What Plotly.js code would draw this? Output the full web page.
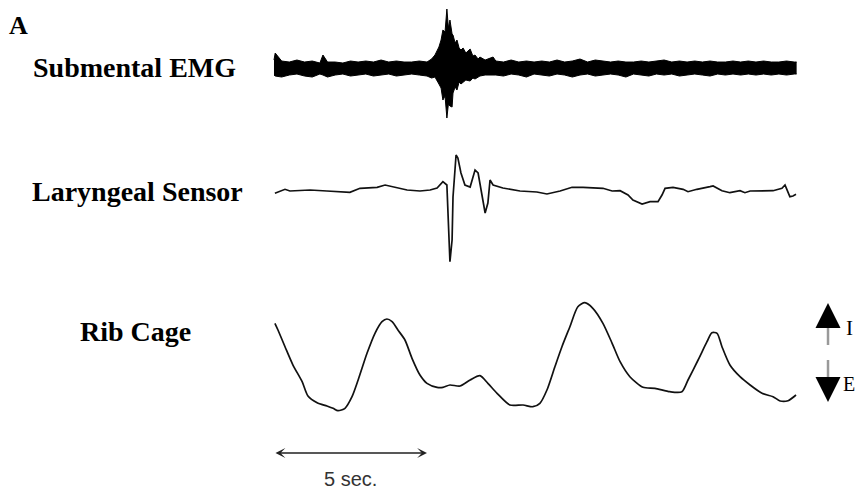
<!DOCTYPE html>
<html><head><meta charset="utf-8">
<script src="https://cdn.plot.ly/plotly-3.0.1.min.js"></script>
<style>html,body{margin:0;padding:0;background:#fff}#chart{width:856px;height:492px}</style>
</head><body><div id="chart"></div>
<script>
// Time in seconds (scale bar: 5 s)
const emgT = [0,0.04,0.25,0.5,0.75,1.0,1.25,1.5,1.6,1.75,2.0,2.25,2.5,2.75,3.0,3.25,3.5,3.75,4.0,4.25,4.5,4.75,5.0,5.15,
  5.26,5.39,5.46,5.52,5.59,5.65,5.70,5.75,5.82,5.85,5.92,5.98,6.05,6.11,6.18,6.27,6.41,6.50,6.57,6.67,6.73,6.90,7.16,
  7.25,7.5,7.75,8.0,8.25,8.5,8.75,9.0,9.25,9.5,9.75,10.0,10.25,10.5,10.75,11.0,11.25,11.5,11.75,12.0,12.25,12.5,12.75,13.0,13.25,13.5,13.75,14.0,14.25,14.5,14.75,15.0,15.25,15.5,15.75,16.0,16.25,16.5,16.75,17.0,17.08];
const emgTop = [8,15,7,6,8,6,7,5,13,6,6,5,7,6,7,6,8,6,7,6,6,7,6,9,
  13,21,28,38,36,59,40,48,34,33,25,28,20,18,20,15,19,12,13,9,11,8,11,
  7,6,8,6,7,6,7,6,8,6,7,9,6,8,7,6,7,6,6,7,6,7,8,6,7,6,7,6,7,6,6,7,6,7,6,7,6,6,7,6,6];
const emgBottom = [-7,-8,-9,-7,-6,-8,-9,-6,-7,-9,-7,-6,-8,-7,-6,-8,-7,-6,-8,-7,-6,-7,-8,-10,
  -9,-16,-20,-32,-28,-50,-36,-38,-39,-25,-19,-22,-14,-16,-14,-12,-13,-10,-11,-9,-8,-7,-7,
  -7,-8,-6,-7,-9,-6,-7,-8,-6,-7,-9,-7,-6,-8,-7,-6,-7,-9,-6,-7,-8,-6,-7,-6,-8,-7,-6,-7,-8,-6,-7,-6,-7,-6,-7,-6,-7,-6,-7,-6,-6];

const larT = [0.03,0.36,0.52,1.18,1.73,2.48,2.81,3.37,3.63,4.02,4.35,4.77,5.10,5.33,5.52,5.65,5.69,5.72,5.75,5.82,5.85,5.95,6.01,6.11,6.24,6.41,6.57,6.67,6.80,6.90,6.99,7.06,7.16,7.48,8.04,8.59,8.92,9.35,9.74,10.10,10.75,11.05,11.31,11.57,11.73,12.03,12.29,12.55,12.68,12.78,13.04,13.37,13.53,13.82,14.25,14.35,14.64,14.90,15.23,15.39,15.56,16.31,16.60,16.70,16.76,16.86,16.96,17.06];
const larV = [-2.3,1.7,0,1,0,-1.3,2.7,3.7,6,3.7,1,0,1,3,9.3,6,-22,-39,-70.7,-49,-6,36,33,18,6,4,21,18,-6,-22,-12,11,6,3,0,-1,-3,0,3.7,3.7,2.7,0,0.3,-4,-9,-13,-10.7,-10.7,-4,2.7,3.7,1.7,-0.7,1.7,4.3,5,0.3,-1.7,0.3,-1.7,0,0.3,2.7,6,1.7,-5.7,-5,-3.3];

const ribT = [0.03,0.13,0.36,0.62,0.92,1.11,1.41,1.73,1.93,2.09,2.32,2.55,2.75,3.04,3.30,3.53,3.69,3.86,4.05,4.28,4.51,4.77,5.00,5.33,5.52,5.75,6.08,6.41,6.73,6.99,7.29,7.71,8.14,8.46,8.69,8.92,9.18,9.41,9.67,9.93,10.16,10.42,10.75,11.05,11.31,11.63,12.06,12.45,12.94,13.33,13.53,13.86,14.15,14.31,14.48,14.64,14.90,15.23,15.56,15.95,16.31,16.54,16.80,17.06];
const ribV = [96.7,90,73.3,55,38.3,24,17.3,14,11.7,9.3,11.7,23.3,40,66.7,86.7,98.3,101,98.3,90,80,61.7,45,36.7,32.7,32.7,35,34,40,44.3,36.7,26.7,15,15,13.3,16.7,30,53.3,73.3,93.3,113.3,117.3,111.7,96.7,76.7,58.3,43.3,32.7,31.7,28.3,28.3,40,60,78.3,87.3,86.7,73.3,55,43.3,35,26.7,23.3,19,19.3,25];

const traceLabels = ['Submental EMG','Laryngeal Sensor','Rib Cage'];
const scaleSeconds = 5;

const serif = 'Liberation Serif, Times New Roman, serif';
const data = [
  {x: emgT, y: emgBottom, yaxis:'y', mode:'lines', line:{color:'#000', width:1}, hoverinfo:'skip'},
  {x: emgT, y: emgTop, yaxis:'y', mode:'lines', fill:'tonexty', fillcolor:'#000', line:{color:'#000', width:1}, hoverinfo:'skip'},
  {x: larT, y: larV, yaxis:'y2', mode:'lines', line:{color:'#111', width:1.7}, hoverinfo:'skip'},
  {x: ribT, y: ribV, yaxis:'y3', mode:'lines', line:{color:'#111', width:1.7, shape:'spline', smoothing:0.7}, hoverinfo:'skip'}
];

const hidden = {visible:false, showgrid:false, zeroline:false, fixedrange:true};
const layout = {
  width:856, height:492,
  margin:{l:0,r:0,t:0,b:0,pad:0},
  paper_bgcolor:'#fff', plot_bgcolor:'#fff',
  showlegend:false,
  xaxis: Object.assign({domain:[0,1], range:[-8.954, 19.02]}, hidden),
  yaxis: Object.assign({domain:[0.7459,0.9898], range:[-57,63]}, hidden),
  yaxis2: Object.assign({domain:[0.4411,0.7154], range:[-84,51], anchor:'x'}, hidden),
  yaxis3: Object.assign({domain:[0.1463,0.4106], range:[0,130], anchor:'x'}, hidden),
  shapes: [
    {type:'line', xref:'paper', yref:'paper', x0:0.9673, x1:0.9673, y0:0.3455, y1:0.2988, line:{color:'#999', width:2.5}},
    {type:'line', xref:'paper', yref:'paper', x0:0.9673, x1:0.9673, y0:0.2683, y1:0.2276, line:{color:'#999', width:2.5}}
  ],
  annotations: [
    {text:'A', xref:'paper', yref:'paper', x:0.008, y:0.949, xanchor:'left', yanchor:'middle', showarrow:false, font:{family:serif, size:26, color:'#000', weight:'bold'}},
    {text:traceLabels[0], xref:'paper', yref:'paper', x:0.036, y:0.8638, xanchor:'left', yanchor:'middle', showarrow:false, font:{family:serif, size:28, color:'#000', weight:'bold'}},
    {text:traceLabels[1], xref:'paper', yref:'paper', x:0.035, y:0.6098, xanchor:'left', yanchor:'middle', showarrow:false, font:{family:serif, size:28, color:'#000', weight:'bold'}},
    {text:traceLabels[2], xref:'paper', yref:'paper', x:0.091, y:0.3272, xanchor:'left', yanchor:'middle', showarrow:false, font:{family:serif, size:28, color:'#000', weight:'bold'}},
    // inspiration / expiration arrow heads
    {text:'', xref:'paper', yref:'paper', x:0.9673, y:0.3841, ax:0, ay:22, axref:'pixel', ayref:'pixel', showarrow:true, arrowhead:2, arrowsize:2.5, arrowwidth:2, arrowcolor:'#000'},
    {text:'', xref:'paper', yref:'paper', x:0.9673, y:0.1829, ax:0, ay:-22, axref:'pixel', ayref:'pixel', showarrow:true, arrowhead:2, arrowsize:2.5, arrowwidth:2, arrowcolor:'#000'},
    {text:'I', xref:'paper', yref:'paper', x:0.9865, y:0.3333, xanchor:'left', yanchor:'middle', showarrow:false, font:{family:serif, size:21, color:'#000'}},
    {text:'E', xref:'paper', yref:'paper', x:0.9825, y:0.2195, xanchor:'left', yanchor:'middle', showarrow:false, font:{family:serif, size:20, color:'#000'}},
    // time scale bar
    {text:'', xref:'x', yref:'paper', x:scaleSeconds, y:0.0793, axref:'x', ax:0, ayref:'pixel', ay:0, showarrow:true, arrowside:'end+start', arrowhead:3, arrowsize:1.1, arrowwidth:1.5, arrowcolor:'#222'},
    {text:scaleSeconds + ' sec.', xref:'x', yref:'paper', x:scaleSeconds/2, y:0.026, xanchor:'center', yanchor:'middle', showarrow:false, font:{family:'Liberation Sans, Arial, sans-serif', size:20, color:'#333'}}
  ]
};
Plotly.newPlot('chart', data, layout, {staticPlot:true, displayModeBar:false});
</script></body></html>
